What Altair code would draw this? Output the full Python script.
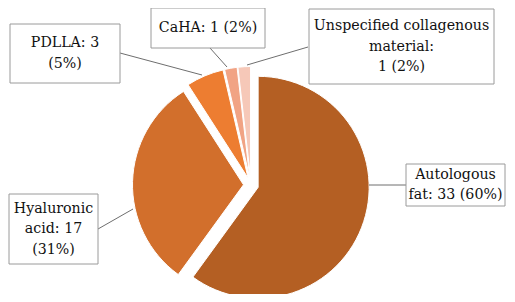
import altair as alt
import pandas as pd

# ---- data ----
categories = ["Autologous fat", "Hyaluronic acid", "PDLLA", "CaHA",
              "Unspecified collagenous material"]
counts = [33, 17, 3, 1, 1]
colors = ["#B45F23", "#D26F2C", "#ED7D31", "#F1A384", "#F6C8B8"]
label_texts = [
    "Autologous\nfat: 33 (60%)",
    "Hyaluronic\nacid: 17\n(31%)",
    "PDLLA: 3\n(5%)",
    "CaHA: 1 (2%)",
    "Unspecified collagenous\nmaterial:\n1 (2%)",
]

# ---- layout (pixel positions inside the canvas) ----
W, H = 499, 286
CX, CY, R, EXPLODE = 243, 177, 111, 7.5
LH = 20.5
boxes = [  # x1, y1, x2, y2
    (398, 156, 497, 198),
    (1, 186, 90, 256),
    (2, 16, 112, 75),
    (143, 0, 257, 40),
    (301, 1, 486, 76),
]
leaders = [  # x1, y1, x2, y2
    (361, 177, 398, 177),
    (90, 221, 125, 201),
    (112, 45, 194, 67),
    (202, 40, 219, 59),
    (300, 39, 239, 57),
]

pie_df = pd.DataFrame({"category": categories, "count": counts,
                       "order": list(range(len(categories)))})

pie = alt.Chart(pie_df).transform_joinaggregate(
    total="sum(count)"
).transform_window(
    cum="sum(count)", sort=[alt.SortField("order")], frame=[None, 0]
).transform_calculate(
    t0="2*PI*(datum.cum - datum.count)/datum.total",
    t1="2*PI*datum.cum/datum.total",
    mid="2*PI*(datum.cum - datum.count/2)/datum.total",
).transform_calculate(
    px=f"{CX} + {EXPLODE}*sin(datum.mid)",
    py=f"{CY} - {EXPLODE}*cos(datum.mid)",
).mark_arc(outerRadius=R, stroke="white", strokeWidth=1).encode(
    theta=alt.Theta("t0:Q", scale=None),
    theta2="t1:Q",
    x=alt.X("px:Q", scale=None),
    y=alt.Y("py:Q", scale=None),
    color=alt.Color("category:N", scale=alt.Scale(domain=categories, range=colors),
                    legend=None),
)

lab_df = pd.DataFrame({
    "text": label_texts,
    "bx1": [b[0] for b in boxes], "by1": [b[1] for b in boxes],
    "bx2": [b[2] for b in boxes], "by2": [b[3] for b in boxes],
    "lx1": [l[0] for l in leaders], "ly1": [l[1] for l in leaders],
    "lx2": [l[2] for l in leaders], "ly2": [l[3] for l in leaders],
})
nlines = lab_df["text"].str.count("\n")
lab_df["cx"] = (lab_df.bx1 + lab_df.bx2) / 2
lab_df["cy"] = (lab_df.by1 + lab_df.by2) / 2 - nlines * LH / 2

base = alt.Chart(lab_df)
lines = base.mark_rule(color="#6E6E6E", strokeWidth=1).encode(
    x=alt.X("lx1:Q", scale=None), y=alt.Y("ly1:Q", scale=None),
    x2="lx2:Q", y2="ly2:Q")
rects = base.mark_rect(fill="white", stroke="#9A9A9A", strokeWidth=1).encode(
    x=alt.X("bx1:Q", scale=None), y=alt.Y("by1:Q", scale=None),
    x2="bx2:Q", y2="by2:Q")
texts = base.mark_text(fontSize=14.2, lineHeight=LH, lineBreak="\n", align="center",
                       baseline="middle", color="#111111").encode(
    x=alt.X("cx:Q", scale=None), y=alt.Y("cy:Q", scale=None), text="text:N")

chart = alt.layer(pie, lines, rects, texts).properties(
    width=W, height=H, padding=0,
    autosize=alt.AutoSizeParams(type="none"),
).configure_view(stroke=None).configure_text(font="DejaVu Serif")

chart.save("out.html", embed_options={"renderer": "svg", "actions": False})
